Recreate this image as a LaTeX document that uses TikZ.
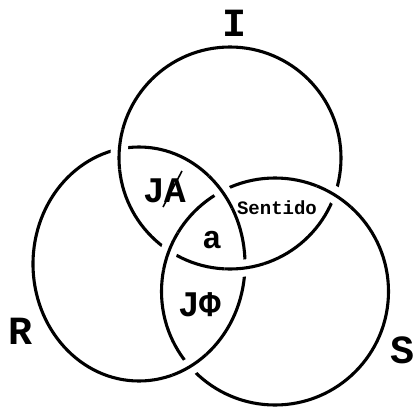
\documentclass[tikz,border=0pt]{standalone}
\usepackage{fontspec}
\newfontfamily\monofont{Liberation Mono}

\begin{document}
\begin{tikzpicture}[
    x = 1pt, y = -1pt,
    ring/.style     = {draw, line width = 3.1pt},
    ringgap/.style  = {draw = white, line width = 17pt},
    slash/.style    = {draw, line width = 1.6pt},
    biglbl/.style   = {inner sep = 0pt, font = \monofont\bfseries\fontsize{40}{40}\selectfont},
    midlbl/.style   = {inner sep = 0pt, font = \monofont\bfseries\fontsize{36}{36}\selectfont},
    smalllbl/.style = {inner sep = 0pt, font = \monofont\bfseries\fontsize{19}{19}\selectfont}
  ]
  \useasboundingbox (0,0) rectangle (416,408);

  % Los tres anillos
  \def\ringI{(230,158) circle[radius = 111pt]}
  \def\ringR{(139,264) ellipse[x radius = 106pt, y radius = 117pt]}
  \def\ringS{(275,291.5) circle[radius = 113.5pt]}
  \draw[ring] \ringI;
  \draw[ring] \ringR;
  \draw[ring] \ringS;

  % Cruces: el anillo de encima tapa al de debajo
  \foreach \cx/\cy/\strand in {119.5/149.5/\ringI, 244.5/268/\ringI,
                               222/191/\ringR, 190.3/366.8/\ringR,
                               170/251/\ringS, 334.7/195/\ringS} {
    \begin{scope}
      \clip (\cx,\cy) circle[radius = 20pt];
      \draw[ringgap] \strand;
      \draw[ring] \strand;
    \end{scope}
  }

  % Nombres de los anillos
  \node[biglbl] (li) at (235,23)  {I};
  \node[biglbl] (lr) at (21,331)  {R};
  \node[biglbl] (ls) at (403,350) {S};

  % Zonas de intersección
  \node[midlbl]   (ja)  at (165,191) {JA};
  \node[biglbl, font = \monofont\bfseries\fontsize{32}{32}\selectfont] (a) at (212,240) {a};
  \node[smalllbl] (sen) at (277,208) {Sentido};
  \node[midlbl]   (jf)  at (200,305) {JΦ};
  \draw[slash] (182,171) -- (163,207);

\end{tikzpicture}
\end{document}
